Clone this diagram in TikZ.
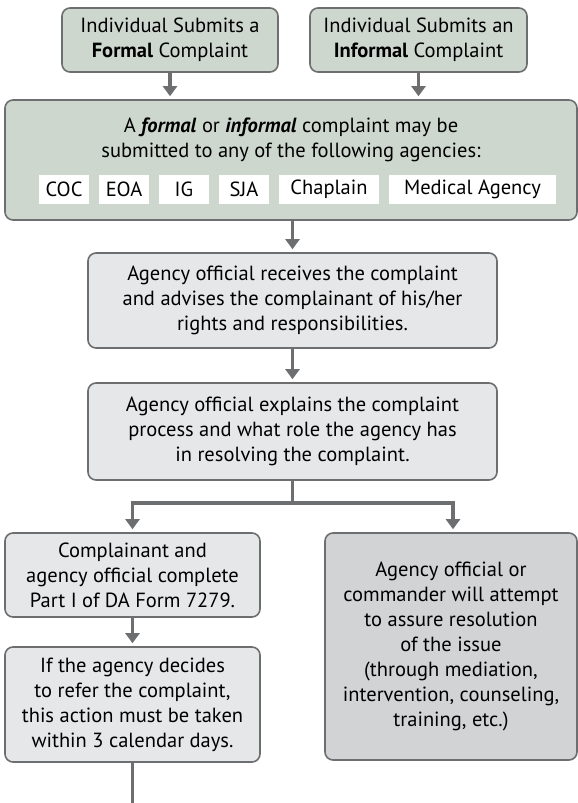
\documentclass[tikz,border=0pt]{standalone}
\usepackage{fontspec}
\setmainfont{PT Sans}
\usetikzlibrary{arrows.meta,positioning}

\definecolor{boxgreen}{HTML}{CDD7CE}
\definecolor{boxgray}{HTML}{E6E7E8}
\definecolor{boxdark}{HTML}{D1D3D4}
\definecolor{edgegray}{HTML}{6D6E70}

\tikzstyle{line} = [draw=edgegray, line width=3.5pt, -{Triangle[width=14pt,length=10pt]}, shorten >=3pt]
\tikzstyle{plain} = [draw=edgegray, line width=3.5pt]
\tikzstyle{block1} = [draw=edgegray, line width=1.6pt, rectangle, rounded corners=8pt, fill=boxgreen, align=center, font=\fontsize{20.5pt}{25pt}\selectfont, node distance=0mm]
\tikzstyle{block2} = [block1, fill=boxgray]
\tikzstyle{block3} = [block1, fill=boxdark]
\tikzstyle{agency} = [rectangle, fill=white, minimum height=29pt, inner sep=0pt, font=\fontsize{20.5pt}{25pt}\selectfont, node distance=0mm]

\begin{document}
\begin{tikzpicture}
\useasboundingbox (0,0) rectangle (578pt,-803pt);
% primeiro nivel
\node [block1, minimum width=216pt, minimum height=64pt] (formal) at (170pt,-40pt) {Individual Submits a\\\textbf{Formal} Complaint};
\node [block1, minimum width=217pt, minimum height=64pt, right of=formal, xshift=248.5pt] (informal) {Individual Submits an\\\textbf{Informal} Complaint};
% segundo nivel
\node [block1, minimum width=572pt, minimum height=120pt, below of=formal, xshift=121pt, yshift=-120pt] (agen) {};
\node [align=center, font=\fontsize{20.5pt}{25pt}\selectfont, node distance=0mm, below of=agen, yshift=20pt] (agtxt) {A \textbf{\textit{formal}} or \textbf{\textit{informal}} complaint may be\\submitted to any of the following agencies:};
\node [agency, minimum width=50pt, below of=agen, xshift=-227pt, yshift=-29.5pt] (coc) {COC};
\node [agency, minimum width=50pt, right of=coc, xshift=60pt] (eoa) {EOA};
\node [agency, minimum width=50pt, right of=eoa, xshift=60pt] (ig) {IG};
\node [agency, minimum width=50pt, right of=ig, xshift=60pt] (sja) {SJA};
\node [agency, minimum width=100pt, right of=sja, xshift=85pt] (chap) {Chaplain};
\node [agency, minimum width=167pt, right of=chap, xshift=143.5pt] (medic) {Medical Agency};
% terceiro nivel
\node [block2, minimum width=409pt, minimum height=95pt, below of=agen, xshift=1.5pt, yshift=-140.5pt] (recv) {Agency official receives the complaint\\and advises the complainant of his/her\\rights and responsibilities.};
\node [block2, minimum width=409pt, minimum height=97pt, below of=recv, yshift=-131pt] (expl) {Agency official explains the complaint\\process and what role the agency has\\in resolving the complaint.};
\coordinate [below of=expl, node distance=0mm, yshift=-71.5pt] (fork);
% quarto nivel
\node [block2, minimum width=255pt, minimum height=84pt, below of=expl, xshift=-160pt, yshift=-143.5pt] (partI) {Complainant and\\agency official complete\\Part I of DA Form 7279.};
\node [block2, minimum width=255pt, minimum height=115pt, below of=partI, yshift=-129.5pt] (refer) {If the agency decides\\to refer the complaint,\\this action must be taken\\within 3 calendar days.};
\node [block3, minimum width=252pt, minimum height=227pt, right of=partI, xshift=318.5pt, yshift=-71.5pt] (resol) {Agency official or\\commander will attempt\\to assure resolution\\of the issue\\(through mediation,\\intervention, counseling,\\training, etc.)};
\coordinate [below of=refer, node distance=0mm, yshift=-98.5pt] (out);
%arrows
\path [line] (formal.south) -- (formal.south |- agen.north);
\path [line] (informal.south) -- (informal.south |- agen.north);
\path [line] (recv.north |- agen.south) -- (recv.north);
\path [line] (recv) -- (expl);
\path [plain] (expl.south) -- (fork);
\path [line] (fork) -| (partI.north);
\path [line] (fork) -| ([xshift=2pt]resol.north);
\path [line] (partI) -- (refer);
\path [plain] (refer.south) -- (out);
\end{tikzpicture}
\end{document}
